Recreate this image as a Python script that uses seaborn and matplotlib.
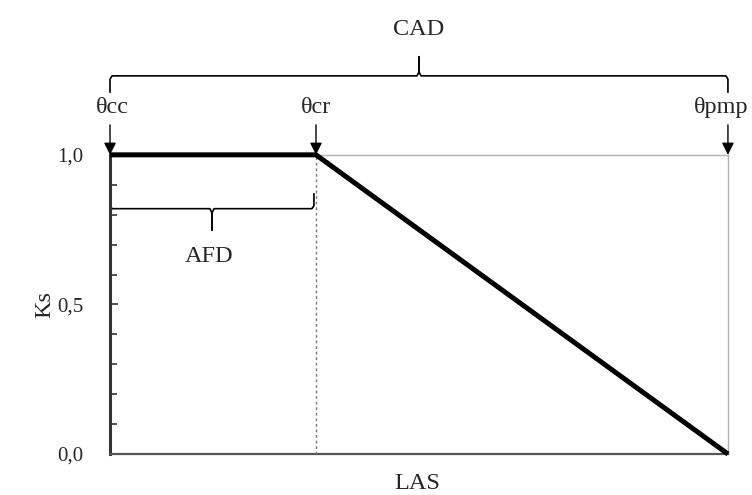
import numpy as np
import pandas as pd
import matplotlib
matplotlib.use("Agg")
import matplotlib.pyplot as plt
import seaborn as sns

# Water-stress coefficient Ks as a function of soil water depletion (LAS)
las_points = [0.0, 1.0, 3.0]          # θcc, θcr, θpmp positions along LAS
ks_values = [1.0, 1.0, 0.0]
point_labels = ["θcc", "θcr", "θpmp"]
label_shift = [1.5, 0.0, -5.0]        # horizontal nudge of each label, points
ytick_values = [0.0, 0.5, 1.0]
ytick_labels = ["0,0", "0,5", "1,0"]

sns.set_theme(style="white")
plt.rcParams["font.family"] = ["Liberation Serif", "DejaVu Serif"]

TXT = 17.5
TICK = 15

fig = plt.figure(figsize=(7.52, 4.95), dpi=100)
ax = fig.add_axes([0.1463, 0.0828, 0.8217, 0.6044])

df = pd.DataFrame({"LAS": las_points, "Ks": ks_values})
sns.lineplot(data=df, x="LAS", y="Ks", ax=ax, color="black", linewidth=3.6,
             solid_capstyle="butt", clip_on=False, zorder=5)

# dotted line at the critical point
ax.plot([las_points[1], las_points[1]], [0, ks_values[1]], color="#777777",
        linestyle=(0, (2, 2)), linewidth=1.0, zorder=3)

ax.set_xlim(las_points[0], las_points[-1])
ax.set_ylim(0, 1)
ax.set_xticks([])
ax.set_yticks(ytick_values)
ax.set_yticklabels(ytick_labels, fontsize=TICK)
ax.set_yticks(np.arange(0.1, 1.0, 0.1), minor=True)
ax.tick_params(axis="y", which="major", direction="in", length=6, width=1.2,
               color="#333333", pad=19, left=True)
ax.tick_params(axis="y", which="minor", direction="in", length=5, width=1.2,
               color="#333333", left=True)

ax.set_xlabel("LAS", fontsize=TXT, va="baseline")
ax.xaxis.set_label_coords(0.497, -0.117)
ax.set_ylabel("Ks", fontsize=TXT, va="baseline")
ax.yaxis.set_label_coords(-0.097, 0.5)

ax.spines["left"].set_color("#333333")
ax.spines["left"].set_linewidth(2.2)
ax.spines["bottom"].set_color("#555555")
ax.spines["bottom"].set_linewidth(1.6)
for s in ("top", "right"):
    ax.spines[s].set_color("#b0b0b0")
    ax.spines[s].set_linewidth(1.0)

# labelled arrows pointing to each threshold
for x, lab, dx in zip(las_points, point_labels, label_shift):
    ax.annotate("", xy=(x, 1.0), xytext=(x, 1.10), annotation_clip=False,
                arrowprops=dict(arrowstyle="-|>,head_length=0.6,head_width=0.3",
                                color="black", lw=1.0, shrinkA=0, shrinkB=0))
    ax.annotate(lab, xy=(x, 1.140), xytext=(dx, 0), textcoords="offset points",
                ha="center", va="baseline", fontsize=TXT, annotation_clip=False)


def brace(ax, x0, x1, y, depth, tip, color="black", lw=1.2):
    """Horizontal curly brace between x0 and x1 at height y.
    depth: signed height of the end hooks, tip: signed height of the middle point."""
    xm = (x0 + x1) / 2
    kx = 0.01
    left = ([x0, x0, x0 + kx, xm - kx, xm, xm],
            [y + depth, y + depth * 0.2, y, y, y + tip * 0.2, y + tip])
    right = ([xm, xm, xm + kx, x1 - kx, x1, x1],
             [y + tip, y + tip * 0.2, y, y, y + depth * 0.2, y + depth])
    for xs, ys in (left, right):
        ax.plot(xs, ys, color=color, lw=lw, clip_on=False,
                solid_joinstyle="round")


# CAD brace spanning the whole range
brace(ax, las_points[0], las_points[-1], 1.264, -0.055, 0.064)
ax.text((las_points[0] + las_points[-1]) / 2, 1.401, "CAD", ha="center",
        va="baseline", fontsize=TXT)

# AFD brace between θcc and θcr
brace(ax, las_points[0], las_points[1] - 0.01, 0.82, 0.05, -0.072)
ax.text((las_points[0] + las_points[1]) / 2 - 0.02, 0.642, "AFD", ha="center",
        va="baseline", fontsize=TXT)

fig.savefig("out.png", dpi=100)
